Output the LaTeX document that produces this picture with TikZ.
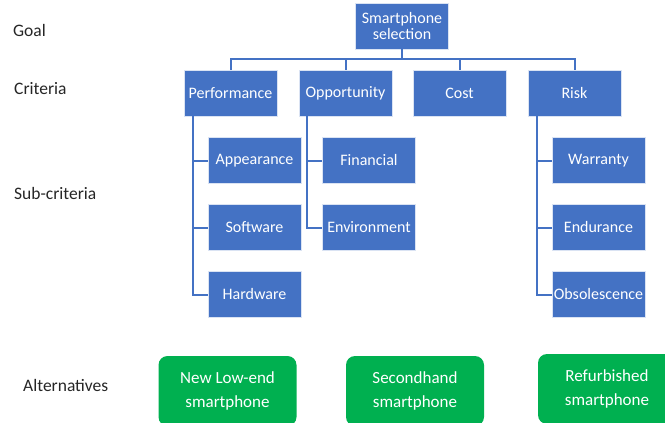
\documentclass[tikz,border=0pt]{standalone}
\usepackage{fontspec}
\setmainfont{Carlito}
\usetikzlibrary{calc}
\definecolor{boxblue}{HTML}{4472C4}
\definecolor{boxgreen}{HTML}{00B050}
\definecolor{labelgray}{HTML}{262626}
\tikzset{
    crit/.style={rectangle, fill=boxblue, draw=white!80!boxblue, line width=0.7pt, text=white,
        minimum width=93pt, minimum height=46pt, inner sep=0pt, align=center,
        font=\fontsize{16}{16.5}\selectfont},
    alt/.style={rectangle, rounded corners=9pt, fill=boxgreen, text=white,
        minimum width=138pt, minimum height=70pt, inner sep=0pt, align=center,
        font=\fontsize{17}{24}\selectfont},
    link/.style={draw=boxblue, line width=2pt},
    level/.style={anchor=west, inner sep=0pt, text=labelgray, font=\fontsize{17.5}{20}\selectfont}
}

\begin{document}
\begin{tikzpicture}[x=1pt, y=-1pt]
    \useasboundingbox (0,0) rectangle (665,423);

    \def\yc{93};
    \def\ys{160.5};
    \def\dy{67};

    % levels
    \node[level] (lgoal) at (13, 30) {Goal};
    \node[level] (lcrit) at (14, 89) {Criteria};
    \node[level] (lsub) at (14, 193) {Sub-criteria};
    \node[level] (lalt) at (23, 385) {Alternatives};

    % goal and criteria
    \node[crit] (goal) at (402, 26) {Smartphone\\selection};
    \node[crit] (perf) at (230.5, \yc) {Performance};
    \node[crit] (oppo) at (345.5, \yc) {Opportunity};
    \node[crit] (cost) at (459.5, \yc) {Cost};
    \node[crit] (risk) at (574.5, \yc) {Risk};

    \coordinate (bus) at (402, 59);
    \foreach \c in {perf, oppo, cost, risk}
        \draw[link] (goal.south) -- (bus) -| (\c.north);

    % sub-criteria
    \node[crit] (appe) at (254.5, \ys) {Appearance};
    \node[crit] (soft) at (254.5, {\ys+\dy}) {Software};
    \node[crit] (hard) at (254.5, {\ys+2*\dy}) {Hardware};
    \node[crit] (fina) at (369, \ys) {Financial};
    \node[crit] (envi) at (369, {\ys+\dy}) {Environment};
    \node[crit] (warr) at (598.5, \ys) {Warranty};
    \node[crit] (endu) at (598.5, {\ys+\dy}) {Endurance};
    \node[crit] (obso) at (598.5, {\ys+2*\dy}) {Obsolescence};

    \foreach \s in {appe, soft, hard}
        \draw[link] ([xshift=9pt]perf.south west) |- (\s.west);
    \foreach \s in {fina, envi}
        \draw[link] ([xshift=8pt]oppo.south west) |- (\s.west);
    \foreach \s in {warr, endu, obso}
        \draw[link] ([xshift=9pt]risk.south west) |- (\s.west);

    % alternatives
    \node[alt] (lowend) at (227.5, 391) {New Low-end\\smartphone};
    \node[alt] (second) at (415, 391) {Secondhand\\smartphone};
    \node[alt] (refurb) at (607, 389) {Refurbished\\smartphone};

\end{tikzpicture}
\end{document}
